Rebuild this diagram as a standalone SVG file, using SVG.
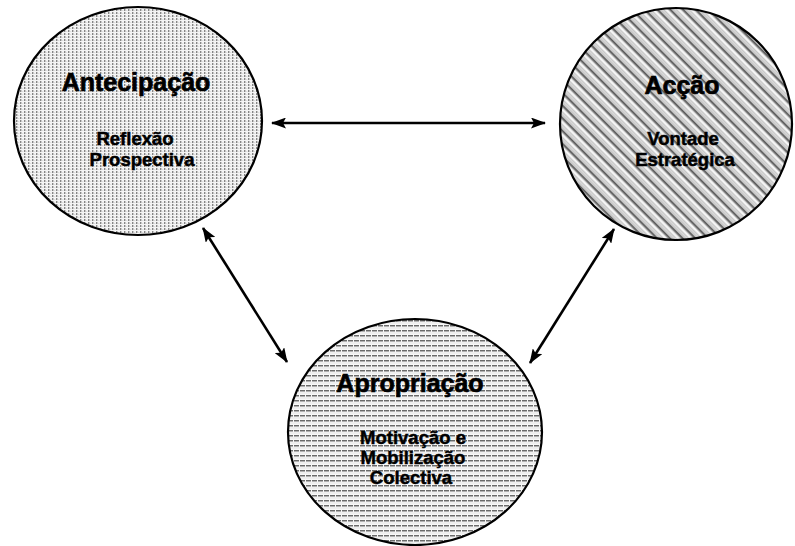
<svg xmlns="http://www.w3.org/2000/svg" width="795" height="546" viewBox="0 0 795 546">
  <style>
    .ring { stroke: #000; stroke-width: 2.2; }
    .title { font-family: "Liberation Sans", Arial, sans-serif; font-weight: bold; font-size: 25px; fill: #000; stroke: #000; stroke-width: 0.7; text-anchor: middle; }
    .sub { font-family: "Liberation Sans", Arial, sans-serif; font-weight: bold; font-size: 18.5px; fill: #000; stroke: #000; stroke-width: 0.5; text-anchor: middle; }
    .link { stroke: #000; stroke-width: 2.6; fill: none; marker-start: url(#head); marker-end: url(#head); }
  </style>
  <defs>
    <!-- vertical dotted columns -->
    <pattern id="vdots" width="4" height="3" patternUnits="userSpaceOnUse">
      <rect width="4" height="3" fill="#f4f4f4"/>
      <rect x="0" y="0" width="1.4" height="2" fill="#858585"/>
      <rect x="2.4" y="1" width="0.8" height="1" fill="#cfcfcf"/>
    </pattern>
    <!-- diagonal hatching with stipple -->
    <pattern id="diag" width="9" height="9" patternUnits="userSpaceOnUse" patternTransform="rotate(45)">
      <rect width="9" height="9" fill="#c6c6c6"/>
      <rect x="0" y="0" width="9" height="1.7" fill="#5a5a5a"/>
      <rect x="0" y="2.8" width="9" height="2" fill="#fafafa"/>
      <rect x="0" y="6.3" width="9" height="0.9" fill="#e2e2e2"/>
    </pattern>
    <!-- horizontal dashed rules -->
    <pattern id="hlines" width="6" height="5" patternUnits="userSpaceOnUse">
      <rect width="6" height="5" fill="#f8f8f8"/>
      <rect x="0" y="0" width="5" height="1.5" fill="#6a6a6a"/>
      <rect x="0" y="2.7" width="6" height="0.6" fill="#dadada"/>
    </pattern>
    <marker id="head" viewBox="0 0 15 11" refX="14" refY="5.5" markerWidth="15" markerHeight="11" markerUnits="userSpaceOnUse" orient="auto-start-reverse">
      <path d="M0,0 L15,5.5 L0,11 L3,5.5 Z" fill="#000"/>
    </marker>
  </defs>

  <g id="antecipacao">
    <ellipse class="ring" cx="138" cy="121" rx="124" ry="114" fill="url(#vdots)"/>
    <text class="title" x="136" y="91">Antecipação</text>
    <text class="sub" x="135" y="145">Reflexão</text>
    <text class="sub" x="142" y="166">Prospectiva</text>
  </g>

  <g id="accao">
    <ellipse class="ring" cx="676" cy="124" rx="116" ry="116" fill="url(#diag)"/>
    <text class="title" x="682" y="94">Acção</text>
    <text class="sub" x="683" y="145">Vontade</text>
    <text class="sub" x="685" y="166">Estratégica</text>
  </g>

  <g id="apropriacao">
    <ellipse class="ring" cx="415" cy="432" rx="127" ry="113" fill="url(#hlines)"/>
    <text class="title" x="410" y="392">Apropriação</text>
    <text class="sub" x="413" y="444">Motivação e</text>
    <text class="sub" x="413" y="464">Mobilização</text>
    <text class="sub" x="411" y="484">Colectiva</text>
  </g>

  <g id="connectors">
    <line class="link" x1="272" y1="123" x2="545" y2="123"/>
    <line class="link" x1="203" y1="228" x2="287" y2="362"/>
    <line class="link" x1="614" y1="229" x2="530" y2="363"/>
  </g>
</svg>
